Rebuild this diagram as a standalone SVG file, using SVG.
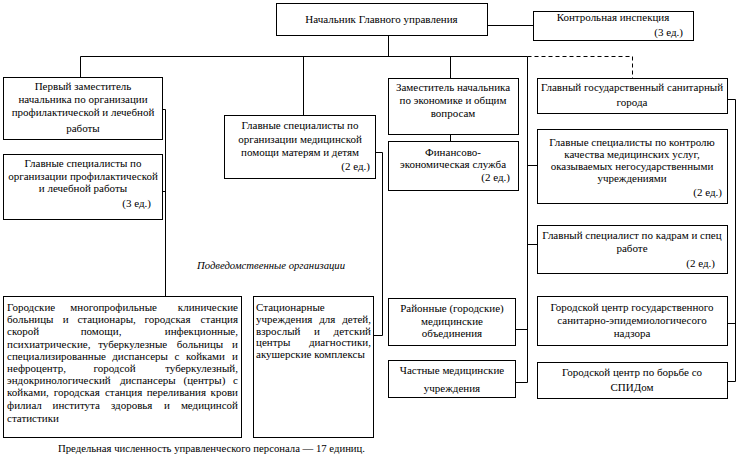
<svg xmlns="http://www.w3.org/2000/svg" width="736" height="460" viewBox="0 0 736 460">
<style>
rect{fill:#fff;stroke:#000;stroke-width:1}
text{font-family:"Liberation Serif","Times New Roman",serif;font-size:11px;fill:#000}
.c{text-anchor:middle}
.r{text-anchor:end}
.e{text-anchor:end}
.ln{fill:none;stroke:#000;stroke-width:1}
.ds{fill:none;stroke:#000;stroke-width:1;stroke-dasharray:4,3}
.it{font-style:italic;font-size:11px}
</style>
<rect x="0" y="0" width="736" height="460" style="fill:#fff;stroke:none"/>
<g id="connectors">
<path class="ln" d="M487.5,25.5H533.5M388.5,35.5V56.5M80.5,56.5H527.5M80.5,56.5V77.5M303.5,56.5V115.5M450.5,56.5V78.5M450.5,134.5V141.5M527.5,56.5V382.5M527.5,165.5H537.5M527.5,244.5H537.5M515.5,329.5H527.5M515.5,382.5H527.5M162.5,109.5H165.5V296.5M162.5,191.5H165.5M375.5,152.5H382.5V335.5H373.5M727.5,99.5H735.5V381.5H727.5M727.5,323.5H735.5"/>
<path class="ds" d="M527.5,56.5H632.5V78.5"/>
</g>
<g id="head">
<rect x="276.5" y="3.5" width="211" height="32"/>
<text x="381.5" y="23" class="c">Начальник Главного управления</text>
</g>
<g id="control">
<rect x="533.5" y="11.5" width="160" height="29"/>
<text x="613" y="21" class="c">Контрольная инспекция</text>
<text x="683" y="36" class="r">(3 ед.)</text>
</g>
<g id="deputy1">
<rect x="3.5" y="77.5" width="159" height="62"/>
<text class="c"><tspan x="83" y="90">Первый заместитель</tspan><tspan x="83" y="103">начальника по организации</tspan><tspan x="83" y="116">профилактической и лечебной</tspan><tspan x="83" y="132">работы</tspan></text>
</g>
<g id="spec1">
<rect x="3.5" y="154.5" width="159" height="65"/>
<text class="c"><tspan x="83" y="167">Главные специалисты по</tspan><tspan x="83" y="180">организации профилактической</tspan><tspan x="83" y="192">и лечебной работы</tspan></text>
<text x="151" y="207" class="r">(3 ед.)</text>
</g>
<g id="spec2">
<rect x="224.5" y="115.5" width="151" height="63"/>
<text class="c"><tspan x="300" y="129">Главные специалисты по</tspan><tspan x="300" y="143">организации медицинской</tspan><tspan x="300" y="156">помощи матерям и детям</tspan></text>
<text x="370" y="170" class="r">(2 ед.)</text>
</g>
<g id="deputy2">
<rect x="388.5" y="78.5" width="130" height="56"/>
<text class="c"><tspan x="453" y="91">Заместитель начальника</tspan><tspan x="453" y="104">по экономике и общим</tspan><tspan x="453" y="117">вопросам</tspan></text>
</g>
<g id="finance">
<rect x="388.5" y="141.5" width="130" height="49"/>
<text class="c"><tspan x="453" y="156">Финансово-</tspan><tspan x="453" y="168">экономическая служба</tspan></text>
<text x="510" y="181" class="r">(2 ед.)</text>
</g>
<g id="sanitary">
<rect x="537.5" y="78.5" width="190" height="35"/>
<text class="c"><tspan x="632" y="91">Главный государственный санитарный</tspan><tspan x="632" y="106">города</tspan></text>
</g>
<g id="quality">
<rect x="537.5" y="129.5" width="190" height="74"/>
<text class="c"><tspan x="632" y="146">Главные специалисты по контролю</tspan><tspan x="632" y="158">качества медицинских услуг,</tspan><tspan x="632" y="170">оказываемых негосударственными</tspan><tspan x="632" y="182">учреждениями</tspan></text>
<text x="722" y="196" class="r">(2 ед.)</text>
</g>
<g id="kadry">
<rect x="537.5" y="225.5" width="190" height="48"/>
<text class="c"><tspan x="632" y="239">Главный специалист по кадрам и спец</tspan><tspan x="632" y="252">работе</tspan></text>
<text x="715" y="267" class="r">(2 ед.)</text>
</g>
<g id="gsen">
<rect x="537.5" y="296.5" width="190" height="49"/>
<text class="c"><tspan x="632" y="311">Городской центр государственного</tspan><tspan x="632" y="324">санитарно-эпидемиологичесого</tspan><tspan x="632" y="337">надзора</tspan></text>
</g>
<g id="aids">
<rect x="537.5" y="362.5" width="190" height="36"/>
<text class="c"><tspan x="632" y="376">Городской центр по борьбе со</tspan><tspan x="632" y="391">СПИДом</tspan></text>
</g>
<g id="district">
<rect x="388.5" y="298.5" width="127" height="47"/>
<text class="c"><tspan x="452" y="312">Районные (городские)</tspan><tspan x="452" y="325">медицинские</tspan><tspan x="452" y="337">объединения</tspan></text>
</g>
<g id="private">
<rect x="388.5" y="360.5" width="127" height="37"/>
<text class="c"><tspan x="452" y="374">Частные медицинские</tspan><tspan x="452" y="392">учреждения</tspan></text>
</g>
<g id="stationary">
<rect x="253.5" y="296.5" width="120" height="141"/>
<text><tspan x="256" y="311">Стационарные</tspan></text>
<text y="322.8"><tspan x="256">учреждения</tspan><tspan x="319.2">для</tspan><tspan x="371" class="e">детей,</tspan></text>
<text y="334.6"><tspan x="256">взрослый</tspan><tspan x="314.1">и</tspan><tspan x="371" class="e">детский</tspan></text>
<text y="346.4"><tspan x="256">центры</tspan><tspan x="371" class="e">диагностики,</tspan></text>
<text y="358.2"><tspan x="256">акушерские комплексы</tspan></text>
</g>
<g id="subordinate">
<rect x="3.5" y="296.5" width="238" height="141"/>
<text y="311"><tspan x="7">Городские</tspan><tspan x="70.3">многопрофильные</tspan><tspan x="238" class="e">клинические</tspan></text>
<text y="323.2"><tspan x="7">больницы</tspan><tspan x="62.7">и</tspan><tspan x="77.4">стационары,</tspan><tspan x="144.5">городская</tspan><tspan x="238" class="e">станция</tspan></text>
<text y="335.4"><tspan x="7">скорой</tspan><tspan x="80.7">помощи,</tspan><tspan x="238" class="e">инфекционные,</tspan></text>
<text y="347.6"><tspan x="7">психиатрические,</tspan><tspan x="98.2">туберкулезные</tspan><tspan x="176.7">больницы</tspan><tspan x="238" class="e">и</tspan></text>
<text y="359.8"><tspan x="7">специализированные</tspan><tspan x="112.2">диспансеры</tspan><tspan x="174.5">с</tspan><tspan x="185.9">койками</tspan><tspan x="238" class="e">и</tspan></text>
<text y="372"><tspan x="7">нефроцентр,</tspan><tspan x="93.4">городсой</tspan><tspan x="238" class="e">туберкулезный,</tspan></text>
<text y="384.2"><tspan x="7">эндокринологический</tspan><tspan x="119.9">диспансеры</tspan><tspan x="183.5">(центры)</tspan><tspan x="238" class="e">с</tspan></text>
<text y="396.4"><tspan x="7">койками,</tspan><tspan x="53.7">городская</tspan><tspan x="104.9">станция</tspan><tspan x="146.7">переливания</tspan><tspan x="238" class="e">крови</tspan></text>
<text y="408.6"><tspan x="7">филиал</tspan><tspan x="52.6">института</tspan><tspan x="110.9">здоровья</tspan><tspan x="164">и</tspan><tspan x="238" class="e">медицинсой</tspan></text>
<text y="422"><tspan x="7">статистики</tspan></text>
</g>
<text x="197" y="269" class="it" textLength="148" lengthAdjust="spacingAndGlyphs">Подведомственные организации</text>
<text x="58" y="452" textLength="307" lengthAdjust="spacingAndGlyphs">Предельная численность управленческого персонала — 17 единиц.</text>
</svg>
